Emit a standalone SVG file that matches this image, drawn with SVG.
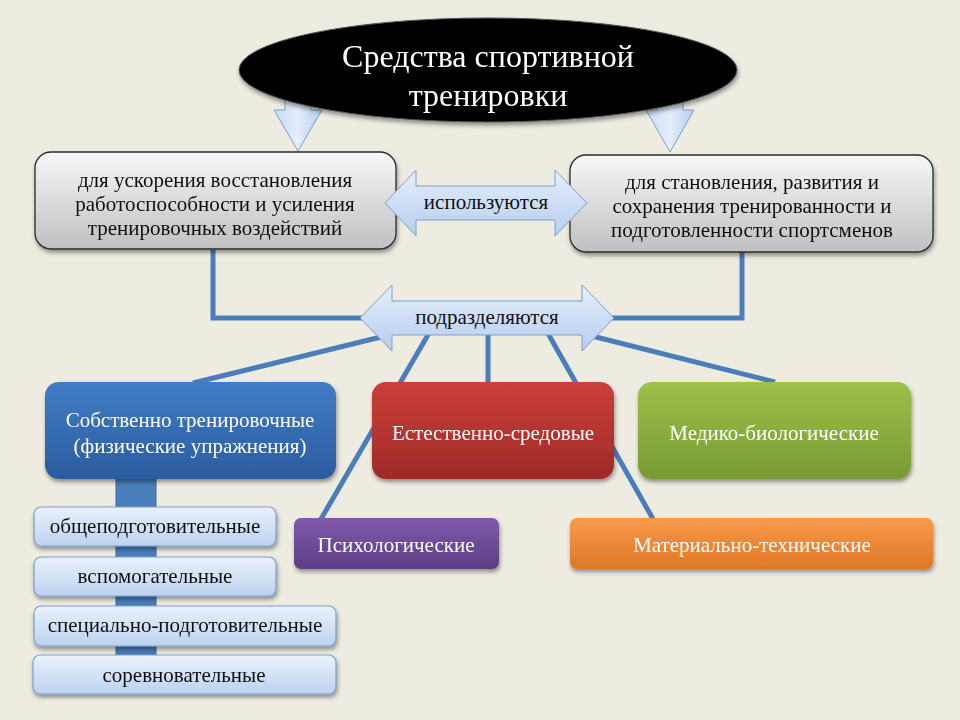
<svg xmlns="http://www.w3.org/2000/svg" width="960" height="720" viewBox="0 0 960 720">
<defs>
<linearGradient id="gGray" x1="0" y1="0" x2="0" y2="1"><stop offset="0" stop-color="#f7f7f7"/><stop offset="1" stop-color="#c0c0c0"/></linearGradient>
<linearGradient id="gArrow" x1="0" y1="0" x2="0" y2="1"><stop offset="0" stop-color="#e6effb"/><stop offset="1" stop-color="#b5cdee"/></linearGradient>
<linearGradient id="gArrowV" x1="0" y1="0" x2="1" y2="0"><stop offset="0" stop-color="#c8daf3"/><stop offset="0.5" stop-color="#e4edfa"/><stop offset="1" stop-color="#b5cdee"/></linearGradient>
<linearGradient id="gBlue" x1="0" y1="0" x2="0" y2="1"><stop offset="0" stop-color="#417cc6"/><stop offset="1" stop-color="#2b5c9f"/></linearGradient>
<linearGradient id="gRed" x1="0" y1="0" x2="0" y2="1"><stop offset="0" stop-color="#cb3f3a"/><stop offset="1" stop-color="#9e2a26"/></linearGradient>
<linearGradient id="gGreen" x1="0" y1="0" x2="0" y2="1"><stop offset="0" stop-color="#9fc049"/><stop offset="1" stop-color="#789a33"/></linearGradient>
<linearGradient id="gPurple" x1="0" y1="0" x2="0" y2="1"><stop offset="0" stop-color="#8059ab"/><stop offset="1" stop-color="#5c3e83"/></linearGradient>
<linearGradient id="gOrange" x1="0" y1="0" x2="0" y2="1"><stop offset="0" stop-color="#f99a4a"/><stop offset="1" stop-color="#de7727"/></linearGradient>
<linearGradient id="gSub" x1="0" y1="0" x2="0" y2="1"><stop offset="0" stop-color="#eaf1fc"/><stop offset="1" stop-color="#bcd2f0"/></linearGradient>
<filter id="sh" x="-10%" y="-10%" width="120%" height="130%"><feDropShadow dx="1" dy="3" stdDeviation="2" flood-color="#000" flood-opacity="0.4"/></filter>
</defs>
<style>
text{font-family:"Liberation Serif","Times New Roman",serif;text-anchor:middle}
.t{font-size:21px;fill:#111}
.w{fill:#fff;font-size:21px}
.conn{stroke:#4a7ebb;stroke-width:5;fill:none}
.gray{fill:url(#gGray);stroke:#2b2b2b;stroke-width:1.3}
.arr{fill:url(#gArrow);stroke:#7d9fcc;stroke-width:1}
.arrv{fill:url(#gArrowV);stroke:#7d9fcc;stroke-width:1}
.sub{fill:url(#gSub);stroke:#7a9fd0;stroke-width:1.2}
</style>
<rect width="960" height="720" fill="#eeebe1"/>

<g id="connectors">
<polyline class="conn" points="213,250 213,318 362,318"/>
<polyline class="conn" points="742,252 742,318 612,318"/>
<line class="conn" x1="385" y1="336" x2="193" y2="383"/>
<line class="conn" x1="432" y1="328" x2="321" y2="519"/>
<line class="conn" x1="488" y1="330" x2="488" y2="383"/>
<line class="conn" x1="546" y1="330" x2="653" y2="519"/>
<line class="conn" x1="592" y1="336" x2="775" y2="382"/>
<rect x="116" y="470" width="40" height="212" fill="#4a7ebb" stroke="#3c6aa3" stroke-width="1"/>
</g>

<g id="arrow-down-left">
<polygon class="arrv" points="285,80 311,80 311,110 322,110 298,151 274,110 285,110"/>
</g>
<g id="arrow-down-right">
<polygon class="arrv" points="657,80 683,80 683,110 694,110 670,152 646,110 657,110"/>
</g>

<g id="title" filter="url(#sh)">
<ellipse cx="488" cy="70" rx="249" ry="52" fill="#000" stroke="#555" stroke-width="1"/>
<text x="488" y="67" style="font-size:32px;fill:#fff">Средства спортивной</text>
<text x="488" y="106" style="font-size:32px;fill:#fff">тренировки</text>
</g>

<g id="box-left" filter="url(#sh)">
<rect class="gray" x="35" y="152" width="361" height="97" rx="16"/>
<text class="t" x="215" y="187">для ускорения восстановления</text>
<text class="t" x="215" y="211">работоспособности и усиления</text>
<text class="t" x="215" y="235">тренировочных воздействий</text>
</g>

<g id="box-right" filter="url(#sh)">
<rect class="gray" x="570" y="155" width="363" height="97" rx="16"/>
<text class="t" x="752" y="189">для становления, развития и</text>
<text class="t" x="752" y="213">сохранения тренированности и</text>
<text class="t" x="752" y="237">подготовленности спортсменов</text>
</g>

<g id="arrow-ispolzuyutsya">
<polygon class="arr" points="385,203 416,170 416,186 555,186 555,170 587,203 555,236 555,220 416,220 416,236"/>
<text class="t" x="486" y="209">используются</text>
</g>

<g id="arrow-podrazdelyayutsya">
<polygon class="arr" points="360,318 392,285 392,301 582,301 582,285 614,318 582,351 582,335 392,335 392,351"/>
<text class="t" x="487" y="324">подразделяются</text>
</g>

<g id="box-training" filter="url(#sh)">
<rect x="45" y="382" width="291" height="97" rx="14" fill="url(#gBlue)"/>
<text class="w" x="190" y="427">Собственно тренировочные</text>
<text class="w" x="190" y="453">(физические упражнения)</text>
</g>

<g id="box-natural" filter="url(#sh)">
<rect x="372" y="382" width="242" height="97" rx="14" fill="url(#gRed)"/>
<text class="w" x="493" y="440">Естественно-средовые</text>
</g>

<g id="box-medbio" filter="url(#sh)">
<rect x="638" y="382" width="273" height="97" rx="14" fill="url(#gGreen)"/>
<text class="w" x="774" y="440">Медико-биологические</text>
</g>

<g id="box-psych" filter="url(#sh)">
<rect x="294" y="518" width="205" height="51" rx="7" fill="url(#gPurple)"/>
<text class="w" x="396" y="552">Психологические</text>
</g>

<g id="box-material" filter="url(#sh)">
<rect x="570" y="518" width="363" height="51" rx="7" fill="url(#gOrange)"/>
<text class="w" x="752" y="552">Материально-технические</text>
</g>

<g id="sub-1" filter="url(#sh)">
<rect class="sub" x="34" y="507" width="242" height="39" rx="7"/>
<text class="t" x="155" y="533">общеподготовительные</text>
</g>
<g id="sub-2" filter="url(#sh)">
<rect class="sub" x="34" y="557" width="242" height="39" rx="7"/>
<text class="t" x="155" y="583">вспомогательные</text>
</g>
<g id="sub-3" filter="url(#sh)">
<rect class="sub" x="34" y="606" width="302" height="40" rx="7"/>
<text class="t" x="185" y="632">специально-подготовительные</text>
</g>
<g id="sub-4" filter="url(#sh)">
<rect class="sub" x="33" y="655" width="303" height="39" rx="7"/>
<text class="t" x="184" y="682">соревновательные</text>
</g>
</svg>
